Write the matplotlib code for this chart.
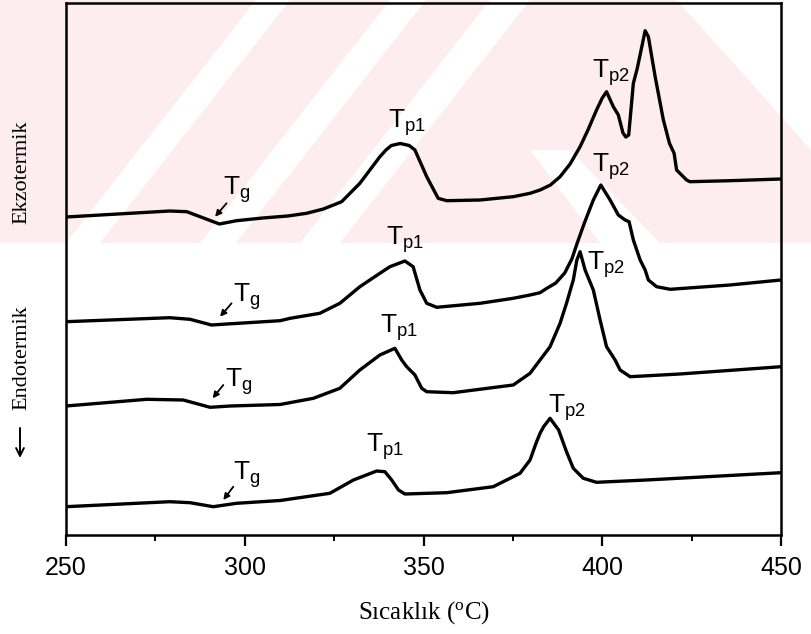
import matplotlib.pyplot as plt
from matplotlib.patches import Polygon

# DSC curves, temperature (C) and heat flow (arbitrary units, shifted)
temp1 = [250, 279, 283.8, 292.9, 297.7, 305, 312, 317.3, 322, 327.1, 332.2, 337.8, 339.5,
         341, 343.5, 346, 347.6, 350.9, 354.1, 356.5, 365.8, 375.1, 379.8, 382.6, 385.5,
         388.2, 391, 393.8, 396, 398.4, 400, 401.2, 403.1, 404.5, 405.8, 406.6, 407.4, 408.7,
         409.8, 412.0, 412.9, 414.8, 417.1, 418.8, 420.1, 420.8, 423.6, 424.5, 435.7, 450]
dsc1 = [318, 324, 323.3, 311, 314.3, 317, 319, 321.7, 326, 333.3, 351.7, 378.3, 385,
        389.5, 391.5, 389.5, 385, 358.3, 336.7, 334.3, 335, 338.3, 341.7, 345, 350,
        358.3, 371, 388.3, 405, 425, 437, 443.3, 428.3, 420, 402, 398, 400, 451.7,
        466.7, 504.3, 498.3, 458.3, 415, 391.7, 381.7, 365, 355, 353.3, 354.3, 356]

temp2 = [250, 279, 284.7, 290.7, 295, 309.9, 312.7, 321, 326.6, 332.2, 337.8, 340.6, 344.8,
         347.1, 349, 350.9, 353.7, 365.8, 375.1, 379.8, 382.6, 384.5, 387, 389.5, 391.5,
         393, 395, 397.5, 399.6, 402.2, 404.5, 406.4, 407.5, 408.7, 410.6, 412, 412.9, 415.2,
         419, 435.7, 450]
dsc2 = [213.3, 217.3, 215.7, 210, 211, 214.3, 216.7, 221.7, 231.7, 248.3, 261.7, 268.3, 274,
        268.3, 245, 231.7, 227.7, 231.7, 236.7, 240, 242.3, 246.7, 252, 262, 276,
        292, 312, 335, 350, 335, 320, 315, 313.3, 295, 275, 265, 255, 248.3,
        245.7, 250, 255]

temp3 = [250, 272.6, 282.8, 290.3, 295.9, 309.9, 319.2, 326.6, 332.2, 337.8, 342, 343.9,
         345.3, 347.6, 349.5, 350.9, 358.3, 375.1, 379.8, 382.6, 385.4, 388.2, 390, 391.9,
         392.9, 393.8, 395.2, 397.5, 399.4, 401.2, 403.6, 405, 407.8, 421.7, 450]
dsc3 = [129, 135.7, 135, 127.7, 129, 130.5, 136.7, 146.7, 165, 180, 186.7, 175,
        168.3, 160, 146.7, 143.3, 142.3, 150, 161.7, 175, 188.3, 211.7, 231.7, 255,
        275, 283.3, 265, 245, 215, 188.3, 175, 165, 158.3, 161, 168.3]

temp4 = [250, 279, 284.7, 291.2, 297.7, 309.9, 323.8, 330.4, 336.9, 339.2, 341.1, 343,
         344.8, 356.5, 369.5, 377, 379.8, 381.5, 382.6, 383.6, 385.4, 387.8, 390, 391.9,
         394.7, 398.4, 412.4, 450]
dsc4 = [28.3, 33.3, 32.3, 28.3, 31.7, 34.5, 41.7, 55, 64, 63.3, 55, 45,
        41, 42.3, 48.3, 61.7, 75, 92, 101.7, 108.3, 116.7, 105, 83.3, 66.7,
        56.7, 52.7, 55, 62.3]

# peak labels
label_x = [293.9, 340.1, 397.1, 296.7, 339.5, 397.1, 294.5, 337.8, 395.7, 296.7, 333.9, 384.8]
label_y = [340, 407, 457, 233, 290, 363, 148, 202, 265, 55, 83, 122]
label_txt = ['g', 'p1', 'p2'] * 4

# Tg arrows (tail -> head)
arrow_tail = [(294.9, 331.7), (296.3, 231.7), (294.0, 150), (296.8, 48.3)]
arrow_head = [(291.7, 318.3), (293.1, 218.3), (291.0, 136.7), (294.0, 35)]

fig = plt.figure(figsize=(8.11, 6.34), dpi=100)

# faint watermark of the scanned page, behind everything
def px(x, y):
    return (x / 811, 1 - y / 634)

def wm(points, color):
    fig.patches.append(Polygon([px(x, y) for x, y in points], closed=True,
                               transform=fig.transFigure, facecolor=color,
                               edgecolor='none', zorder=-10))

wm([(0, 0), (811, 0), (811, 243), (0, 243)], '#fdedf0')
for x0, w in [(273, 34), (408, 36), (510, 40)]:
    wm([(x0 - w / 2, 0), (x0 + w / 2, 0), (x0 + w / 2 - 190, 243), (x0 - w / 2 - 190, 243)], 'white')
wm([(677, 0), (811, 0), (811, 150)], 'white')
wm([(530, 150), (570, 150), (660, 243), (600, 243)], 'white')

ax = fig.add_axes([66 / 811, 1 - 535 / 634, 715 / 811, 532 / 634])
ax.set_facecolor('none')

for t, d in [(temp1, dsc1), (temp2, dsc2), (temp3, dsc3), (temp4, dsc4)]:
    ax.plot(t, d, color='black', lw=2.4, solid_joinstyle='round')

for x, y, s in zip(label_x, label_y, label_txt):
    ax.text(x, y, r'$\mathregular{T_{' + s + '}}$', fontsize=19,
            family='Liberation Sans', ha='left', va='baseline')

for (tx, ty), (hx, hy) in zip(arrow_tail, arrow_head):
    ax.annotate('', xy=(hx, hy), xytext=(tx, ty),
                arrowprops=dict(arrowstyle='-|>', color='black', lw=1.3,
                                mutation_scale=9, shrinkA=0, shrinkB=0))

ax.set_xlim(250, 450)
ax.set_ylim(0, 532)
ax.set_xticks([250, 300, 350, 400, 450])
ax.set_xticks([275, 325, 375, 425], minor=True)
ax.set_yticks([])
ax.tick_params(axis='x', which='major', direction='out', length=8, width=1.6,
               pad=7, labelsize=18)
ax.tick_params(axis='x', which='minor', direction='out', length=4.5, width=1.4)
for lab in ax.get_xticklabels():
    lab.set_family('Liberation Sans')
for sp in ax.spines.values():
    sp.set_linewidth(1.8)

ax.set_xlabel(r'Sıcaklık ($\mathregular{^{o}}$C)', fontsize=18,
              family='Liberation Serif', labelpad=14)

# y-axis direction labels
fig.text(22 / 811, 1 - 172 / 634, 'Ekzotermik', rotation=90, fontsize=16,
         family='Liberation Serif', ha='center', va='center')
fig.text(22 / 811, 1 - 358 / 634, 'Endotermik', rotation=90, fontsize=16,
         family='Liberation Serif', ha='center', va='center')
ax.annotate('', xy=(20, 634 - 458), xytext=(20, 634 - 428),
            xycoords='figure pixels', textcoords='figure pixels',
            arrowprops=dict(arrowstyle='->', color='black', lw=1.4,
                            mutation_scale=14, shrinkA=0, shrinkB=0))

plt.savefig('out.png', dpi=100)
